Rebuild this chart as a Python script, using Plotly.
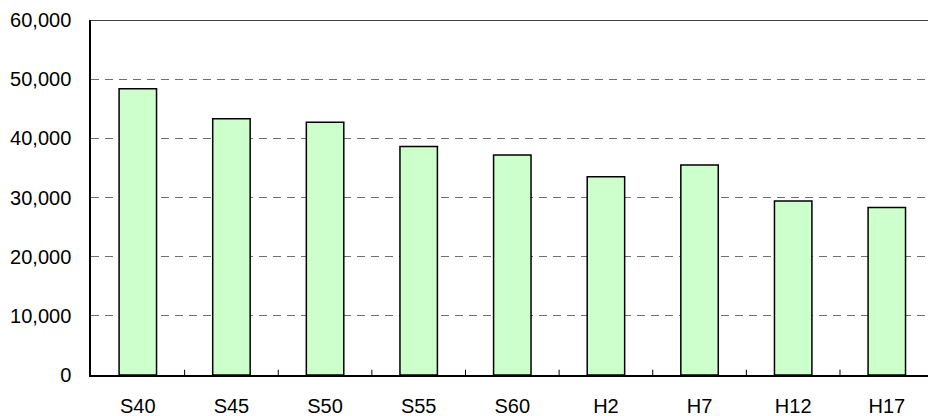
import plotly.graph_objects as go

categories = ["S40", "S45", "S50", "S55", "S60", "H2", "H7", "H12", "H17"]
values = [48400, 43300, 42700, 38600, 37200, 33500, 35500, 29400, 28300]
y_ticks = [0, 10000, 20000, 30000, 40000, 50000, 60000]
y_tick_labels = ["0", "10,000", "20,000", "30,000", "40,000", "50,000", "60,000"]

fig = go.Figure()
fig.add_trace(go.Bar(
    x=list(range(len(categories))), y=values,
    width=0.4,
    marker=dict(color="#CCFFCC", line=dict(color="#000000", width=1.5)),
    hoverinfo="skip",
))

fig.update_layout(
    width=928, height=416,
    margin=dict(l=91, r=0, t=20, b=41),
    paper_bgcolor="white", plot_bgcolor="white",
    showlegend=False,
    font=dict(family="Liberation Sans, Arial, sans-serif", size=20, color="#000000"),
    xaxis=dict(
        tickmode="array", tickvals=list(range(len(categories))), ticktext=categories,
        range=[-0.5, 8.44], showgrid=False, zeroline=False,
        showline=True, linecolor="#000000", linewidth=1.5,
        ticks="", ticklabelstandoff=12, automargin=False,
    ),
    yaxis=dict(
        range=[0, 60000], tickmode="array", tickvals=y_ticks, ticktext=y_tick_labels,
        showgrid=True, gridcolor="#707070", gridwidth=1.2, griddash="8px,6px",
        zeroline=False, showline=True, linecolor="#000000", linewidth=1.5,
        ticks="", ticklabelstandoff=14, automargin=False,
    ),
)

# category boundary ticks (inside, pointing up)
for i in range(1, len(categories)):
    fig.add_shape(type="line", xref="x", yref="paper", x0=i - 0.5, x1=i - 0.5,
                  y0=0, y1=0.015, line=dict(color="#000000", width=1))

# top border line
fig.add_shape(type="line", xref="paper", yref="y", x0=0, x1=1, y0=60000, y1=60000,
              line=dict(color="#000000", width=1.5))

fig.write_html(
    "out.html",
    config={"displayModeBar": False},
    post_script="document.body.style.margin='0';document.body.style.overflow='hidden';",
)
